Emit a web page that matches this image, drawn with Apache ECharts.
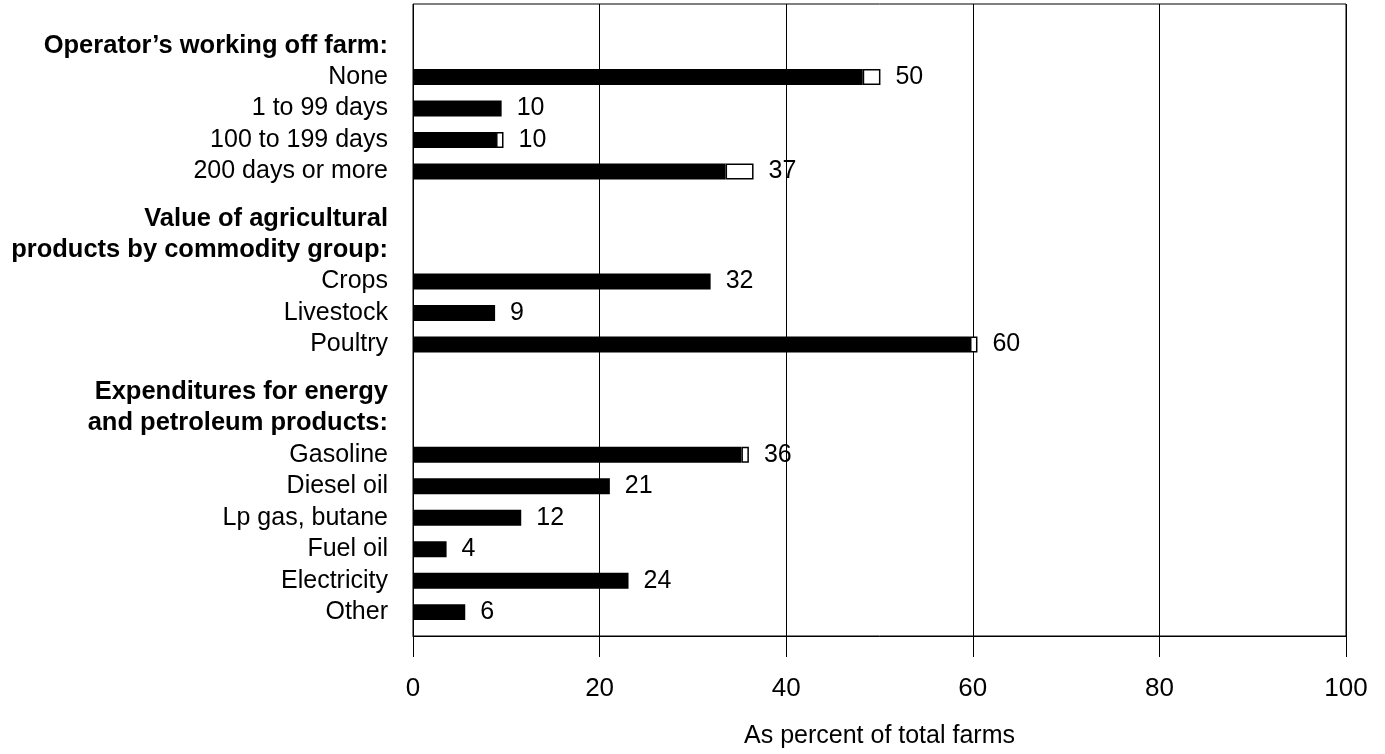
<!DOCTYPE html>
<html>
<head>
<meta charset="utf-8">
<script src="https://cdn.jsdelivr.net/npm/echarts@6/dist/echarts.min.js"></script>
<style>
html,body{margin:0;padding:0;background:#fff;}
#chart{width:1385px;height:754px;}
</style>
</head>
<body>
<div id="chart"></div>
<script>
// ---- data ----
const groupHeaders = [
  ["Operator\u2019s working off farm:"],
  ["Value of agricultural", "products by commodity group:"],
  ["Expenditures for energy", "and petroleum products:"]
];
const groupItems = [
  ["None", "1 to 99 days", "100 to 199 days", "200 days or more"],
  ["Crops", "Livestock", "Poultry"],
  ["Gasoline", "Diesel oil", "Lp gas, butane", "Fuel oil", "Electricity", "Other"]
];
// dark (solid) part of each bar, in item order
const solidValues   = [48.2, 9.5, 8.9, 33.5, 31.9, 8.8, 59.7, 35.2, 21.1, 11.6, 3.6, 23.1, 5.6];
// open (outlined) part of each bar
const outlineValues = [1.9, 0, 0.8, 3.0, 0, 0, 0.8, 0.8, 0, 0, 0, 0, 0];
// printed totals
const totalLabels   = [50, 10, 10, 37, 32, 9, 60, 36, 21, 12, 4, 24, 6];
const xTicks = [0, 20, 40, 60, 80, 100];
const xAxisTitle = "As percent of total farms";

// ---- build slots (each row = two half slots, extra half slot between groups) ----
const slotNames = [], slotKind = [], slotItem = [];
let itemIdx = 0;
groupHeaders.forEach((hdrs, g) => {
  if (g > 0) { slotNames.push("_gap" + slotNames.length); slotKind.push("b"); slotItem.push(-1); }
  hdrs.forEach(h => {
    slotNames.push(h); slotKind.push("h"); slotItem.push(-1);
    slotNames.push("_gap" + slotNames.length); slotKind.push("b"); slotItem.push(-1);
  });
  groupItems[g].forEach(it => {
    slotNames.push(it); slotKind.push("i"); slotItem.push(itemIdx++);
    slotNames.push("_gap" + slotNames.length); slotKind.push("b"); slotItem.push(-1);
  });
});
// drop trailing blank
slotNames.pop(); slotKind.pop(); slotItem.pop();

const solidData = slotItem.map(i => i < 0 ? '-' : solidValues[i]);
const outlineData = slotItem.map(i => {
  if (i < 0) return '-';
  const v = outlineValues[i];
  return v > 0 ? { value: v, label: { formatter: String(totalLabels[i]) } }
               : { value: 0, itemStyle: { borderWidth: 0 }, label: { formatter: String(totalLabels[i]) } };
});

const FONT = '"Liberation Sans", Arial, Helvetica, sans-serif';
const chart = echarts.init(document.getElementById('chart'), null, { renderer: 'canvas' });

chart.setOption({
  backgroundColor: '#fff',
  animation: false,
  textStyle: { fontFamily: FONT, color: '#000' },
  grid: [
    { left: 413, right: 39, top: 4, bottom: 117, show: true, borderColor: '#000', borderWidth: 1, backgroundColor: 'transparent' },
    { left: 413, right: 39, top: 37.6, bottom: 134 }
  ],
  xAxis: [
    {
      gridIndex: 0, type: 'value', min: xTicks[0], max: xTicks[xTicks.length - 1], interval: 20,
      axisLine: { show: true, lineStyle: { color: '#000', width: 1 } },
      axisTick: { show: true, length: 21, lineStyle: { color: '#000', width: 1 } },
      splitLine: { show: true, lineStyle: { color: '#000', width: 1 } },
      axisLabel: { margin: 40, fontSize: 26, color: '#000', fontFamily: FONT },
      name: xAxisTitle, nameLocation: 'middle', nameGap: 88,
      nameTextStyle: { fontSize: 25, color: '#000', fontFamily: FONT }
    },
    {
      gridIndex: 1, type: 'value', min: xTicks[0], max: xTicks[xTicks.length - 1], show: false
    }
  ],
  yAxis: [
    { gridIndex: 0, type: 'value', min: 0, max: 1, show: false },
    {
      gridIndex: 1, type: 'category', inverse: true, data: slotNames,
      axisLine: { show: false }, axisTick: { show: false }, splitLine: { show: false },
      axisLabel: {
        interval: 0, margin: 25, color: '#000', fontFamily: FONT, fontSize: 25,
        formatter: (val, idx) => {
          const k = slotKind[idx];
          if (k === 'b') return '';
          return k === 'h' ? '{h|' + val + '}' : '{n|' + val + '}';
        },
        rich: {
          h: { fontSize: 25.5, fontWeight: 'bold', color: '#000', fontFamily: FONT },
          n: { fontSize: 25, color: '#000', fontFamily: FONT }
        }
      }
    }
  ],
  series: [
    {
      type: 'bar', xAxisIndex: 1, yAxisIndex: 1, stack: 'total', data: solidData,
      barWidth: 16, itemStyle: { color: '#000' }, silent: true
    },
    {
      type: 'bar', xAxisIndex: 1, yAxisIndex: 1, stack: 'total', data: outlineData,
      barWidth: 16, itemStyle: { color: '#fff', borderColor: '#000', borderWidth: 1.5 },
      silent: true,
      label: { show: true, position: 'right', distance: 15, fontSize: 25, color: '#000', fontFamily: FONT }
    }
  ]
});
</script>
</body>
</html>
